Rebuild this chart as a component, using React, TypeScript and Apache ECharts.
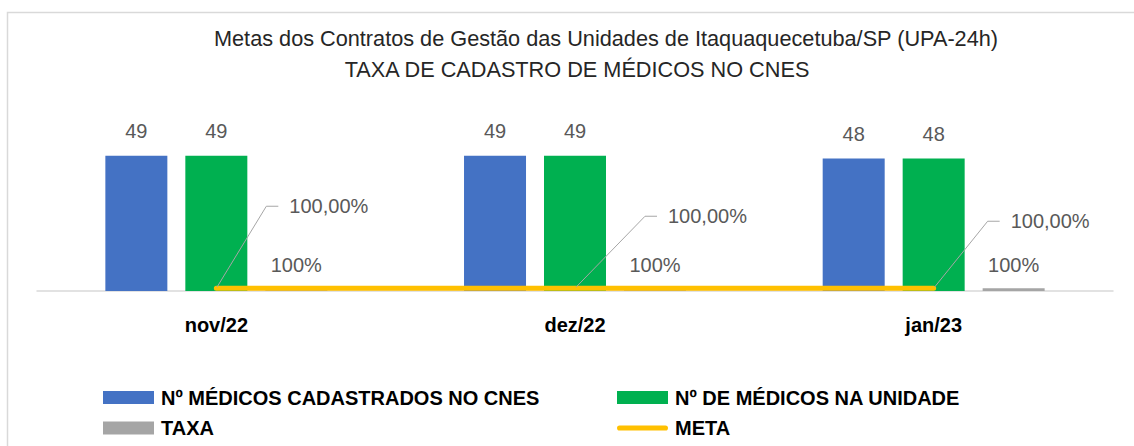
import React, { useEffect, useRef } from "react";
import * as echarts from "echarts";

const titleLine1 = "Metas dos Contratos de Gestão das Unidades de Itaquaquecetuba/SP (UPA-24h)";
const titleLine2 = "TAXA DE CADASTRO DE MÉDICOS NO CNES";
const categories = ["nov/22", "dez/22", "jan/23"];
const seriesNames = [
  "Nº MÉDICOS CADASTRADOS NO CNES",
  "Nº DE MÉDICOS NA UNIDADE",
  "TAXA",
  "META",
];
const cadastrados = [49, 49, 48];
const naUnidade = [49, 49, 48];
const taxa = [1, 1, 1];
const meta = [1, 1, 1];

// label offsets (styling) for META labels relative to their points
const metaLabelOffsets = [
  { tx: 73, ty: -82 },
  { tx: 93, ty: -72 },
  { tx: 77, ty: -67 },
];
const LABEL_GAP = 11;

const FONT = "Liberation Sans";

export default function App() {
  const ref = useRef<HTMLDivElement>(null);
  useEffect(() => {
    document.body.style.margin = "0";
    const chart = echarts.init(ref.current!, null, { renderer: "svg" });
    const valueLabel = {
      show: true,
      position: "top",
      distance: 15,
      color: "#595959",
      fontSize: 20,
      fontFamily: FONT,
    };
    const legendText = {
      fontSize: 20,
      fontWeight: "bold",
      fontFamily: FONT,
      color: "#000000",
      lineHeight: 20,
      padding: [0, 0, 0, 2],
    };
    chart.setOption({
      animation: false,
      backgroundColor: "#ffffff",
      graphic: [
        {
          type: "rect",
          z: -10,
          shape: { x: 7.5, y: 12.5, width: 1140, height: 450 },
          style: { fill: "none", stroke: "#d9d9d9", lineWidth: 1.5 },
        },
        {
          type: "text",
          x: 606,
          y: 38,
          style: {
            text: titleLine1,
            align: "center",
            verticalAlign: "middle",
            fontSize: 21.7,
            fontFamily: FONT,
            fill: "#262626",
          },
        },
        {
          type: "text",
          x: 577,
          y: 69,
          style: {
            text: titleLine2,
            align: "center",
            verticalAlign: "middle",
            fontSize: 21.7,
            fontFamily: FONT,
            fill: "#262626",
          },
        },
      ],
      legend: [
        {
          orient: "vertical",
          left: 103,
          top: 387.5,
          padding: 0,
          itemWidth: 51,
          itemHeight: 13,
          itemGap: 10.5,
          textStyle: legendText,
          data: [
            { name: seriesNames[0], icon: "rect" },
            { name: seriesNames[2], icon: "rect" },
          ],
        },
        {
          orient: "vertical",
          left: 617,
          top: 387.5,
          padding: 0,
          itemWidth: 51,
          itemHeight: 13,
          itemGap: 10.5,
          textStyle: legendText,
          data: [
            { name: seriesNames[1], icon: "rect" },
            {
              name: seriesNames[3],
              icon: "path://M5,0 L95,0 A5,5 0 0 1 95,10 L5,10 A5,5 0 0 1 5,0 Z",
              itemStyle: { color: "#FFC000" },
            },
          ],
        },
      ],
      grid: { left: 37, right: 21, top: 153, bottom: 155 },
      xAxis: {
        type: "category",
        data: categories,
        axisLine: { show: true, lineStyle: { color: "#d9d9d9", width: 1.5 } },
        axisTick: { show: false },
        axisLabel: {
          margin: 24,
          fontSize: 20,
          fontWeight: "bold",
          fontFamily: FONT,
          color: "#000000",
        },
      },
      yAxis: {
        type: "value",
        min: 0,
        max: 50,
        show: false,
        splitLine: { show: false },
      },
      series: [
        {
          name: seriesNames[0],
          type: "bar",
          data: cadastrados,
          barWidth: 62,
          barGap: "29%",
          itemStyle: { color: "#4472C4" },
          label: valueLabel,
        },
        {
          name: seriesNames[1],
          type: "bar",
          data: naUnidade,
          barWidth: 62,
          barGap: "29%",
          itemStyle: { color: "#00B050" },
          label: valueLabel,
        },
        {
          name: seriesNames[2],
          type: "bar",
          data: taxa,
          barWidth: 62,
          barGap: "29%",
          itemStyle: { color: "#A5A5A5" },
          label: {
            ...valueLabel,
            distance: 13,
            formatter: (p: any) => `${Math.round(p.value * 100)}%`,
          },
        },
        {
          name: seriesNames[3],
          type: "line",
          data: meta,
          z: 5,
          symbol: "circle",
          symbolSize: 2,
          showSymbol: true,
          itemStyle: { color: "#FFC000" },
          lineStyle: { color: "#FFC000", width: 5, cap: "round" },
          label: {
            show: true,
            position: "top",
            color: "#595959",
            fontSize: 20,
            fontFamily: FONT,
            padding: [0, 0, 0, LABEL_GAP],
            backgroundColor: "rgba(255,255,255,0.01)",
            formatter: (p: any) =>
              (p.value * 100).toFixed(2).replace(".", ",") + "%",
          },
          labelLine: {
            show: true,
            smooth: false,
            length2: 12,
            minTurnAngle: 20,
            lineStyle: { color: "#a6a6a6", width: 1 },
          },
          labelLayout: (params: any) => {
            const r = params.rect;
            const o = metaLabelOffsets[params.dataIndex] || metaLabelOffsets[0];
            const px = r.x + r.width / 2;
            const py = r.y + r.height / 2;
            return {
              x: px + o.tx - LABEL_GAP,
              y: py + o.ty,
              align: "left",
              verticalAlign: "middle",
            };
          },
        },
      ],
    });
    return () => chart.dispose();
  }, []);
  return <div ref={ref} style={{ width: 1134, height: 446 }} />;
}
